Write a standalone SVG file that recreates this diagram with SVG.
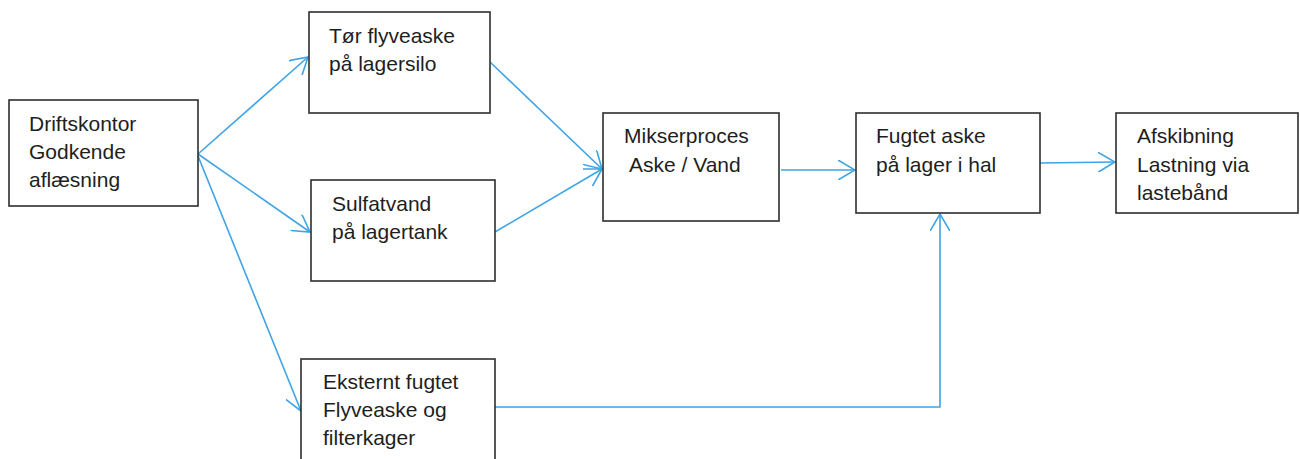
<svg xmlns="http://www.w3.org/2000/svg" width="1300" height="459" viewBox="0 0 1300 459">
<style>
.box{fill:#fff;stroke:#2e2e2e;stroke-width:1.6}
.t{font-family:"Liberation Sans",Arial,sans-serif;font-size:21px;fill:#1e1e1e}
.c{fill:none;stroke:#3ea4e4;stroke-width:1.6}
</style>
<defs>
<marker id="ah" viewBox="0 0 18 20" refX="17" refY="10" markerWidth="18" markerHeight="20" markerUnits="userSpaceOnUse" orient="auto">
<path d="M0,0 L17,10 L0,20" fill="none" stroke="#3ea4e4" stroke-width="1.6"/>
</marker>
</defs>
<rect width="1300" height="459" fill="#fff"/>
<g id="connectors">
<line class="c" x1="198" y1="154" x2="308" y2="57" marker-end="url(#ah)"/>
<line class="c" x1="198" y1="154" x2="310" y2="232" marker-end="url(#ah)"/>
<line class="c" x1="198" y1="156" x2="301" y2="411" marker-end="url(#ah)"/>
<line class="c" x1="490" y1="62" x2="602" y2="169" marker-end="url(#ah)"/>
<line class="c" x1="495" y1="232" x2="602" y2="169" marker-end="url(#ah)"/>
<line class="c" x1="781" y1="170" x2="855" y2="170" marker-end="url(#ah)"/>
<line class="c" x1="1040" y1="163" x2="1115" y2="162" marker-end="url(#ah)"/>
<polyline class="c" points="495,407 940,407 940,214" marker-end="url(#ah)"/>
</g>
<g id="n1"><rect class="box" x="9" y="100" width="189" height="106"/>
<text class="t" x="29" y="131">Driftskontor</text><text class="t" x="29" y="159">Godkende</text><text class="t" x="29" y="187">aflæsning</text></g>
<g id="n2"><rect class="box" x="309" y="12" width="181" height="101"/>
<text class="t" x="329" y="43">Tør flyveaske</text><text class="t" x="329" y="71">på lagersilo</text></g>
<g id="n3"><rect class="box" x="311" y="180" width="184" height="101"/>
<text class="t" x="332" y="211">Sulfatvand</text><text class="t" x="332" y="239">på lagertank</text></g>
<g id="n4"><rect class="box" x="603" y="113" width="176" height="108"/>
<text class="t" x="624" y="143">Mikserproces</text><text class="t" x="629" y="172">Aske / Vand</text></g>
<g id="n5"><rect class="box" x="856" y="113" width="184" height="100"/>
<text class="t" x="876" y="143">Fugtet aske</text><text class="t" x="876" y="172">på lager i hal</text></g>
<g id="n6"><rect class="box" x="1116" y="113" width="182" height="100"/>
<text class="t" x="1137" y="143">Afskibning</text><text class="t" x="1137" y="172">Lastning via</text><text class="t" x="1137" y="200">lastebånd</text></g>
<g id="n7"><rect class="box" x="301" y="359" width="194" height="115"/>
<text class="t" x="323" y="389">Eksternt fugtet</text><text class="t" x="323" y="417">Flyveaske og</text><text class="t" x="323" y="445">filterkager</text></g>
</svg>
